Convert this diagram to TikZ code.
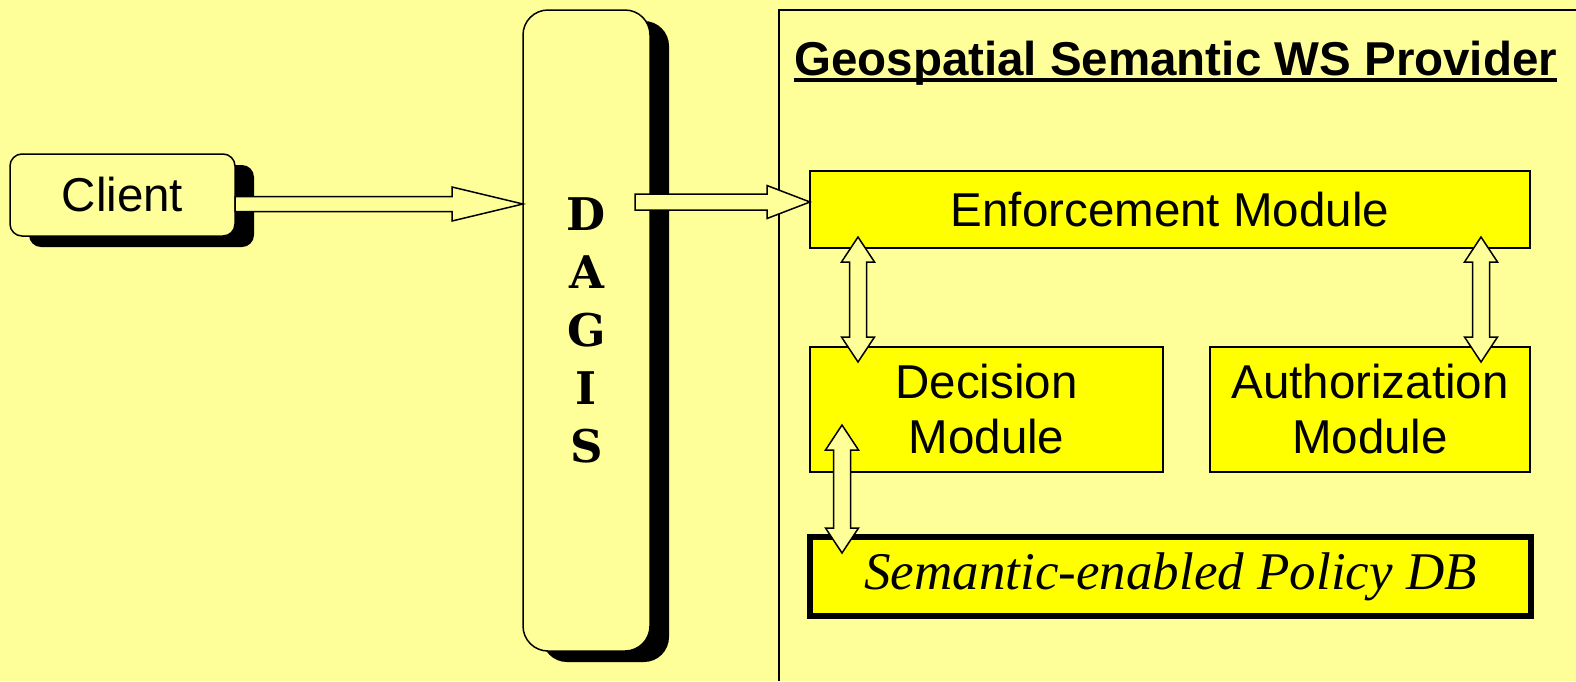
\documentclass[tikz,border=0pt]{standalone}
\usepackage{fontspec}
\setsansfont{Liberation Sans}
\newfontfamily\dbfont{Liberation Serif}
\newfontfamily\gatefont{DejaVu Serif}
\usetikzlibrary{calc,shadows}

\definecolor{paleyellow}{HTML}{FFFF99}
\definecolor{boxyellow}{HTML}{FFFF00}

% hollow block arrows: from, to, shaft half width, head half width, head length
\newcommand{\fatarrow}[5]{%
  \draw[fatline] let \p1=(#1), \p2=(#2), \n1={atan2(\y2-\y1,\x2-\x1)}, \n2={veclen(\x2-\x1,\y2-\y1)} in
    [shift={(\p1)}, rotate=\n1]
    (0pt,#3) -- (\n2-#5,#3) -- (\n2-#5,#4) -- (\n2,0pt) -- (\n2-#5,-#4) -- (\n2-#5,-#3) -- (0pt,-#3) -- cycle;
}
\newcommand{\fatdarrow}[5]{%
  \draw[fatline] let \p1=(#1), \p2=(#2), \n1={atan2(\y2-\y1,\x2-\x1)}, \n2={veclen(\x2-\x1,\y2-\y1)} in
    [shift={(\p1)}, rotate=\n1]
    (0pt,0pt) -- (#5,#4) -- (#5,#3) -- (\n2-#5,#3) -- (\n2-#5,#4) -- (\n2,0pt)
    -- (\n2-#5,-#4) -- (\n2-#5,-#3) -- (#5,-#3) -- (#5,-#4) -- cycle;
}

\begin{document}
\begin{tikzpicture}[x=1pt, y=-1pt,
    sansfont/.style={font=\sffamily\fontsize{47.5}{55}\selectfont},
    roundbox/.style={draw, line width=1.5pt, fill=paleyellow, sansfont, outer sep=0pt,
      drop shadow={shadow xshift=19pt, shadow yshift=-11pt, fill=black, opacity=1}},
    module/.style={draw, line width=1.5pt, fill=boxyellow, sansfont, align=center, inner sep=0pt, outer sep=0pt},
    fatline/.style={draw, line width=1.5pt, fill=paleyellow, line join=miter},
    frameline/.style={line width=1.8pt}]

    % Page
    \useasboundingbox[fill=paleyellow] (0,0) rectangle (1576,681);

    % Client and gateway
    \node[roundbox, rounded corners=12pt, minimum width=225pt, minimum height=82pt] (client) at (122.5,195) {Client};
    \node[roundbox, rounded corners=25pt, minimum width=127pt, minimum height=641pt, align=center,
      font=\gatefont\bfseries\fontsize{45}{58}\selectfont] (dagis) at (586.5,330.5) {D\\A\\G\\I\\S};

    % Provider frame
    \draw[frameline] (779,681) |- (1576,10);
    \node[anchor=base west, inner sep=0pt, font=\sffamily\bfseries\fontsize{47.5}{55}\selectfont] (title) at (794,75) {Geospatial Semantic WS Provider};
    \draw[line width=3.4pt] ($(title.base west)+(0,5)$) -- ($(title.base east)+(0,5)$);

    % Modules
    \node[module, minimum width=720pt, minimum height=77pt] (enforce) at (1170,209.5) {Enforcement Module};
    \node[module, minimum width=353pt, minimum height=125pt] (decision) at (986.5,409.5) {Decision\\Module};
    \node[module, minimum width=320pt, minimum height=125pt] (authz) at (1370,409.5) {Authorization\\Module};
    \node[module, line width=6pt, minimum width=721pt, minimum height=79pt,
      font=\dbfont\itshape\fontsize{53}{60}\selectfont] (policydb) at (1170.5,576.5) {Semantic-enabled Policy DB};

    % Request flow
    \coordinate (c1) at ($(client.east)+(0,9)$);
    \coordinate (d1) at ($(dagis.east |- enforce.west)+(-15,-7.5)$);
    \fatarrow{c1}{c1 -| dagis.west}{7.5pt}{17pt}{71pt}
    \fatarrow{d1}{d1 -| enforce.west}{8pt}{16.5pt}{43pt}

    % Module links
    \coordinate (eL) at ($(enforce.south west)+(48,-11)$);
    \coordinate (dL) at ($(decision.north west)+(48,15)$);
    \coordinate (eR) at ($(enforce.south east)+(-49,-11)$);
    \coordinate (aR) at ($(authz.north east)+(-49,15)$);
    \coordinate (dB) at ($(decision.south west)+(32,-47)$);
    \coordinate (pB) at ($(policydb.north west)+(32,16)$);
    \fatdarrow{eL}{dL}{8.5pt}{16.5pt}{25pt}
    \fatdarrow{eR}{aR}{8.5pt}{16.5pt}{25pt}
    \fatdarrow{dB}{pB}{8.5pt}{16.5pt}{25pt}
\end{tikzpicture}
\end{document}
